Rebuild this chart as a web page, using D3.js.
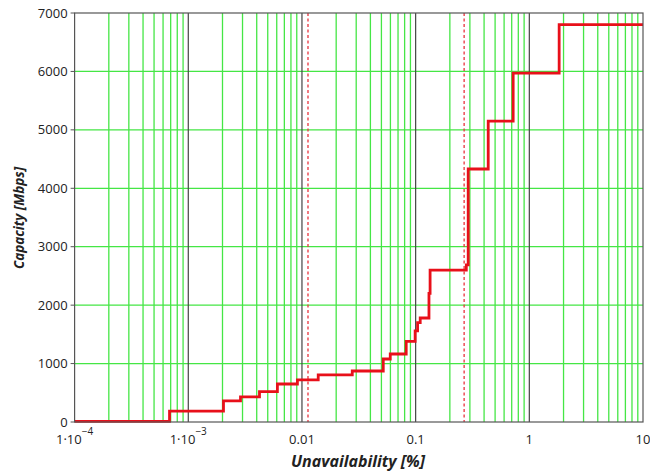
<!DOCTYPE html>
<html>
<head>
<meta charset="utf-8">
<script src="https://cdn.jsdelivr.net/npm/d3@7"></script>
<style>
  body { margin: 0; background: #fff; }
  svg { display: block; }
  text { font-family: "Open Sans", sans-serif; fill: #222; }
</style>
</head>
<body>
<div id="chart"></div>
<script>
// step curve: each point starts a new capacity level
const unavail = [1e-4, 6.84e-4, 2.04e-3, 2.88e-3, 4.23e-3, 6.08e-3, 9.12e-3, 0.0139, 0.0277,
  0.0519, 0.0598, 0.0826, 0.099, 0.104, 0.1097, 0.131, 0.134, 0.279, 0.29, 0.435, 0.721, 1.83, 10];
const capacity = [10, 185, 360, 430, 520, 650, 720, 805, 873,
  1078, 1164, 1380, 1560, 1700, 1780, 2200, 2600, 2690, 4330, 5150, 5970, 6800, 6800];
const markers = [0.0113, 0.267];
const yTicks = [0, 1000, 2000, 3000, 4000, 5000, 6000, 7000];
const decades = [1e-4, 1e-3, 0.01, 0.1, 1, 10];
const decadeLabels = [["1·10", "−4"], ["1·10", "−3"], ["0.01"], ["0.1"], ["1"], ["10"]];

const W = 650, H = 472;
const mL = 74.6, mR = 643, mT = 13, mB = 422;

const svg = d3.select("#chart").append("svg").attr("width", W).attr("height", H);

const x = d3.scaleLog().domain([1e-4, 10]).range([mL, mR]);
const y = d3.scaleLinear().domain([0, 7000]).range([mB, mT]);

// minor log grid
const minor = [];
decades.slice(0, -1).forEach(d => { for (let k = 2; k <= 9; k++) minor.push(d * k); });

const grid = svg.append("g");
grid.selectAll("line.minor").data(minor).enter().append("line")
  .attr("x1", d => x(d)).attr("x2", d => x(d))
  .attr("y1", mT).attr("y2", mB)
  .attr("stroke", "#45e645").attr("stroke-width", 1.3);

grid.selectAll("line.h").data(yTicks.slice(1, -1)).enter().append("line")
  .attr("x1", mL).attr("x2", mR)
  .attr("y1", d => y(d)).attr("y2", d => y(d))
  .attr("stroke", "#45e645").attr("stroke-width", 1.3);

grid.selectAll("line.dec").data(decades.slice(1, -1)).enter().append("line")
  .attr("x1", d => x(d)).attr("x2", d => x(d))
  .attr("y1", mT).attr("y2", mB)
  .attr("stroke", "#444").attr("stroke-width", 1.2);

// dashed marker lines
svg.selectAll("line.mk").data(markers).enter().append("line")
  .attr("x1", d => x(d)).attr("x2", d => x(d))
  .attr("y1", mT).attr("y2", mB)
  .attr("stroke", "#e8323c").attr("stroke-width", 1.3)
  .attr("stroke-dasharray", "3,2.5");

// capacity curve
const pts = unavail.map((u, i) => [u, capacity[i]]);
const line = d3.line().x(d => x(d[0])).y(d => y(d[1])).curve(d3.curveStepAfter);
svg.append("path").datum(pts)
  .attr("d", line)
  .attr("fill", "none")
  .attr("stroke", "#e8101a").attr("stroke-width", 2.8);

// frame
svg.append("rect")
  .attr("x", mL).attr("y", mT)
  .attr("width", mR - mL).attr("height", mB - mT)
  .attr("fill", "none").attr("stroke", "#555").attr("stroke-width", 1.2);

// y axis ticks
const yAx = svg.append("g");
yAx.selectAll("line").data(yTicks).enter().append("line")
  .attr("x1", mL - 4).attr("x2", mL)
  .attr("y1", d => y(d)).attr("y2", d => y(d))
  .attr("stroke", "#555");
yAx.selectAll("text").data(yTicks).enter().append("text")
  .attr("x", mL - 7).attr("y", d => y(d) + 4.5)
  .attr("text-anchor", "end").attr("font-size", 13)
  .text(d => d);

// x axis labels
const xl = svg.append("g").selectAll("text").data(decades).enter().append("text")
  .attr("x", d => x(d)).attr("y", 444)
  .attr("text-anchor", "middle").attr("font-size", 13);
xl.each(function (d, i) {
  const t = d3.select(this);
  const lab = decadeLabels[i];
  t.append("tspan").text(lab[0]);
  if (lab[1]) t.append("tspan").attr("dy", -9).attr("font-size", 10).text(lab[1]);
});

// axis titles
svg.append("text")
  .attr("x", 358).attr("y", 467)
  .attr("text-anchor", "middle")
  .attr("font-size", 16).attr("font-weight", "bold").attr("font-style", "italic")
  .text("Unavailability [%]");

svg.append("text")
  .attr("transform", "translate(24,218) rotate(-90)")
  .attr("text-anchor", "middle")
  .attr("font-size", 13.5).attr("font-weight", "bold").attr("font-style", "italic")
  .text("Capacity [Mbps]");
</script>
</body>
</html>
